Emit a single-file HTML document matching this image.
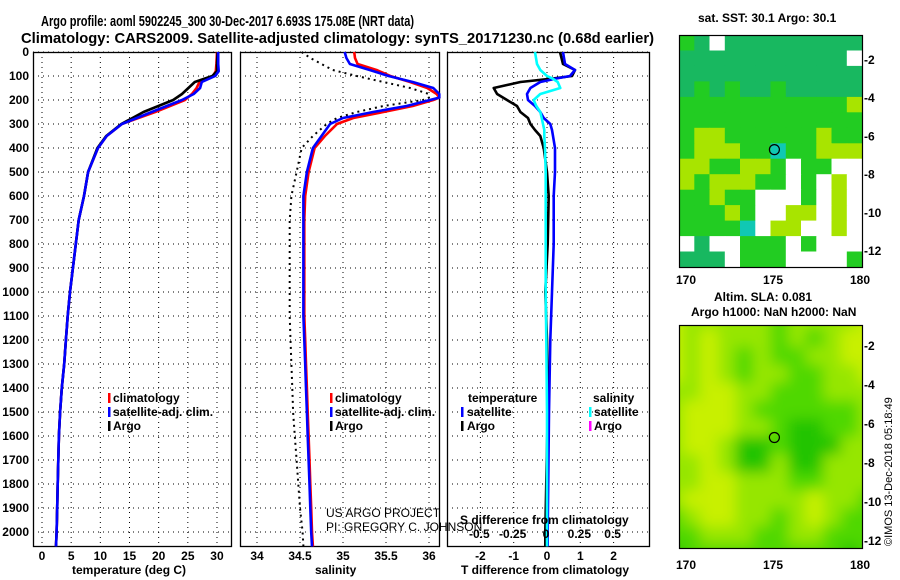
<!DOCTYPE html>
<html><head><meta charset="utf-8"><style>
body{margin:0;background:#fff;}
svg{display:block;font-family:"Liberation Sans",Arial,sans-serif;}
.b{font-weight:bold;font-size:12px;}
</style></head><body>
<svg id="s" width="900" height="580" viewBox="0 0 900 580">
<defs>
<filter id="blur" x="0" y="0" width="1" height="1"><feGaussianBlur stdDeviation="7"/></filter>
<clipPath id="clipTop"><rect x="679" y="35" width="183" height="232"/></clipPath>
<clipPath id="clipBot"><rect x="679" y="325" width="183" height="223"/></clipPath>
</defs>
<text x="41" y="26" font-weight="bold" font-size="15" textLength="373" lengthAdjust="spacingAndGlyphs">Argo profile: aoml 5902245_300 30-Dec-2017 6.693S 175.08E (NRT data)</text>
<text x="21" y="43" font-weight="bold" font-size="15" textLength="633" lengthAdjust="spacingAndGlyphs">Climatology: CARS2009. Satellite-adjusted climatology: synTS_20171230.nc (0.68d earlier)</text>
<g id="grids"></g>
<g id="marks"></g>
<g id="maps"></g>
<g id="labels"></g>
</svg>
<script>
// ---- data ----
const depths = [0,50,80,100,125,150,175,200,250,300,350,400,500,600,700,800,900,1000,1100,1200,1300,1400,1500,1600,1700,1800,1900,2000,2060];
const tempClim = [30.0,29.9,29.8,29.3,27.0,26.5,25.7,24.5,19.4,13.7,11.1,9.6,7.9,7.2,6.3,5.8,5.3,4.8,4.4,4.1,3.8,3.4,3.1,2.9,2.8,2.7,2.6,2.5,2.4];
const tempSat = [30.2,30.2,30.3,29.7,27.4,27.1,26.0,24.0,18.8,13.7,11.1,9.6,7.9,7.2,6.3,5.8,5.3,4.8,4.4,4.1,3.8,3.4,3.1,2.9,2.8,2.7,2.6,2.5,2.4];
const tempArgo = [30.1,30.0,30.0,29.2,26.2,25.1,24.0,22.5,17.4,13.6,11.0,9.5,7.9,7.2,6.3,5.8,5.3,4.8,4.4,4.1,3.8,3.4,3.1,2.9,2.8,2.7,2.6,2.5,2.4];
const salDepths = [0,25,50,75,100,125,150,175,190,200,225,250,275,300,350,400,500,600,700,800,900,1000,1100,1200,1300,1400,1500,1600,1700,1800,1900,2000,2060];
const salClim = [35.13,35.14,35.17,35.39,35.55,35.78,35.98,36.09,36.12,36.05,35.81,35.47,35.12,34.93,34.79,34.67,34.60,34.56,34.55,34.55,34.55,34.55,34.55,34.56,34.57,34.58,34.59,34.60,34.61,34.62,34.63,34.64,34.65];
const salSat = [35.02,35.04,35.08,35.31,35.53,35.81,36.05,36.12,36.12,36.01,35.74,35.35,35.00,34.85,34.75,34.65,34.58,34.54,34.54,34.54,34.54,34.54,34.54,34.55,34.56,34.57,34.58,34.59,34.60,34.61,34.62,34.63,34.64];
const salArgo = [34.52,34.62,34.75,34.88,35.16,35.47,35.78,36.00,36.00,35.93,35.47,35.16,34.93,34.81,34.65,34.52,34.46,34.40,34.38,34.38,34.38,34.38,34.38,34.39,34.40,34.41,34.42,34.44,34.46,34.48,34.50,34.53,34.54];
const diffDepths = [0,50,75,100,110,125,150,175,200,225,250,275,300,325,350,400,500,600,800,1000,1200,1500,2000,2060];
const tDiffArgo = [0.39,0.48,0.84,0.75,0.2,-0.8,-1.6,-1.5,-1.2,-0.9,-0.8,-0.57,-0.5,-0.36,-0.2,-0.1,0.0,0.05,0.02,-0.05,0.0,0.02,-0.05,-0.05];
const tDiffSat = [0.48,0.54,0.84,0.69,0.3,-0.2,-0.5,-0.6,-0.57,-0.36,-0.2,-0.1,0.1,0.15,0.18,0.24,0.24,0.2,0.2,0.15,0.1,0.06,0.02,0.02];
const sDiffSat = [-0.09,-0.075,-0.05,0.0,0.04,0.08,0.1,-0.05,-0.1,-0.08,-0.05,-0.04,-0.03,-0.02,-0.02,-0.015,-0.01,-0.01,-0.01,-0.01,-0.005,0,0,0];
const depthTicks = [0,100,200,300,400,500,600,700,800,900,1000,1100,1200,1300,1400,1500,1600,1700,1800,1900,2000];
const tempTicks = [0,5,10,15,20,25,30];
const salTicks = [34,34.5,35,35.5,36];
const salTickLabels = ['34','34.5','35','35.5','36'];
const tDiffTicks = [-2,-1,0,1,2];
const sDiffTicks = [-0.5,-0.25,0,0.25,0.5];
const sDiffTickLabels = ['-0.5','-0.25','0','0.25','0.5'];
const lonTicks = [170,175,180];
const latTicks = [-2,-4,-6,-8,-10,-12];
const floatLon = 175.08, floatLat = -6.693;
const sstGrid = ["GTWTTTTTTTTT","TTTTTTTTTTTW","TTTTTTTTTTTT","TGTGTTGTTTTT","GGGGGGGGGGGY","GGGGGGGGGGGG","GYYGGGGGGYGG","GYYYGGCGGYYY","YYGGYYGWGGWW","YGYYYGGWGWYW","GGYGGWWWGWYW","GGGYGWWYYWYW","GGGGCWYYWWYW","WTWWGGGWGWWW","TTTWGGGWWWWG"];
const slaGrid = ["YLLLLLGLLLLY","YLYLLLGLGLYY","YLYLGLGGLLYY","YLYLGLLGGLLY","LLYYLLGGGLLL","LYYYLGGGGGGL","LYYYLLGDDGGL","LYYLDDGDDDLL","LLYLDDLDDLLL","LLYYLLLGGLLL","LYYYLLLLYLLG","GLYYLLGLYLGG","GGLLLGGLLGGG","DGGGGGGGGGDG"];
const sstColors = {G:"#22cc22",T:"#18b860",Y:"#a8e400",W:"#ffffff",C:"#10c8b4"};
const slaColors = {Y:"#c8f000",L:"#96e600",G:"#50d800",D:"#22c400"};

const NS="http://www.w3.org/2000/svg";
const yD = d => 52 + d*0.24;
const xT = v => 42 + v*5.833;
const xS = v => 257 + (v-34)*86;
const xTd = v => 547 + v*33.3;
const xSd = v => 547 + v*133.3;
const xLon = v => 686 + (v-170)*17.4;
const yLatTop = v => 60 + (-2 - v)*19.1;
const yLatBot = v => 346 + (-2 - v)*19.5;
const panels = [[33,231],[240,439],[447,649]];
const grids = document.getElementById('grids');
const marks = document.getElementById('marks');
const maps = document.getElementById('maps');
const labels = document.getElementById('labels');
function el(tag, attrs, parent){const e=document.createElementNS(NS,tag);for(const k in attrs)e.setAttribute(k,attrs[k]);parent.appendChild(e);return e;}
function txt(x,y,s,parent,anchor,cls){const t=el('text',{x:x,y:y,'text-anchor':anchor||'middle',class:cls||'b'},parent);t.textContent=s;return t;}

const vgrid = [tempTicks.map(xT), salTicks.map(xS), tDiffTicks.map(xTd)];
panels.forEach((p,i)=>{
  depthTicks.forEach(d=>{
    const l=el('line',{x1:p[0],x2:p[1],y1:yD(d),y2:yD(d),stroke:'#000','stroke-width':1,'stroke-dasharray':'1 4'},grids);
    
    
  });
  vgrid[i].forEach(x=>{
    const l=el('line',{x1:x,x2:x,y1:52,y2:547,stroke:'#000','stroke-width':1,'stroke-dasharray':'1 4'},grids);
    
    
  });
  const r=el('rect',{x:p[0]+0.5,y:52.5,width:p[1]-p[0],height:494,fill:'none',stroke:'#000','stroke-width':1.3},grids);
  
  
});

function line(xs, ds, xf, color, name, dash){
  const pts = xs.map((v,i)=>xf(v).toFixed(1)+','+yD(ds[i]).toFixed(1)).join(' ');
  const pl = el('polyline',{points:pts,fill:'none',stroke:color,'stroke-width':dash?2:2.6,'stroke-linejoin':'round'},marks);
  if(dash) pl.setAttribute('stroke-dasharray', dash);
  
  
}
line(tempClim, depths, xT, '#ff0000', 'temp-climatology-line');
line(tempArgo, depths, xT, '#000000', 'temp-argo-line');
line(tempSat, depths, xT, '#0000ff', 'temp-satellite-line');
line(salArgo, salDepths, xS, '#000000', 'salinity-argo-line', '2 4');
line(salClim, salDepths, xS, '#ff0000', 'salinity-climatology-line');
line(salSat, salDepths, xS, '#0000ff', 'salinity-satellite-line');
line(tDiffArgo, diffDepths, xTd, '#000000', 'tdiff-argo-line');
line(tDiffSat, diffDepths, xTd, '#0000ff', 'tdiff-satellite-line');
line(sDiffSat, diffDepths, xSd, '#00ffff', 'sdiff-satellite-line');

depthTicks.forEach(d=>{const t=txt(29,yD(d)+4,String(d),labels,'end');});
tempTicks.forEach(v=>{const t=txt(xT(v),560,String(v),labels);});
salTicks.forEach((v,i)=>{const t=txt(xS(v),560,salTickLabels[i],labels);});
tDiffTicks.forEach(v=>{const t=txt(xTd(v),560,String(v),labels);});
sDiffTicks.forEach((v,i)=>{const t=txt(xSd(v)-1,538,sDiffTickLabels[i],labels);});

function drawGrid(grid, colors, x0, y0, w, h, parent, name){
  const rows=grid.length, cols=grid[0].length, cw=w/cols, ch=h/rows;
  grid.forEach((row,r)=>{[...row].forEach((c,k)=>{
    const rc=el('rect',{x:(x0+k*cw).toFixed(1),y:(y0+r*ch).toFixed(1),width:(cw+0.6).toFixed(1),height:(ch+0.6).toFixed(1),fill:colors[c]},parent);
    
    
  });});
}
const gTop = el('g',{'clip-path':'url(#clipTop)'},maps);
drawGrid(sstGrid, sstColors, 679, 35, 183, 232, gTop, 'sst-map-cell');
const gBotC = el('g',{'clip-path':'url(#clipBot)'},maps);
const gBot = el('g',{filter:'url(#blur)'},gBotC);
drawGrid(slaGrid, slaColors, 665, 311, 211, 251, gBot, 'sla-map-cell');
[[35,267,'sst-map-frame'],[325,548,'sla-map-frame']].forEach(f=>{
  const r=el('rect',{x:679.5,y:f[0]+0.5,width:183,height:f[1]-f[0],fill:'none',stroke:'#000','stroke-width':1.2},maps);
  
  
});
[[yLatTop(floatLat),'sst-float-marker'],[yLatBot(floatLat),'sla-float-marker']].forEach(m=>{
  const c=el('circle',{cx:xLon(floatLon),cy:m[0],r:5,fill:'none',stroke:'#000','stroke-width':1.2},maps);
  
  
});
lonTicks.forEach(v=>{
  const a=txt(xLon(v),284,String(v),labels);
  const b=txt(xLon(v),569,String(v),labels);
});
latTicks.forEach(v=>{
  const a=txt(864,yLatTop(v)+4,String(v),labels,'start');
  const b=txt(864,yLatBot(v)+4,String(v),labels,'start');
});

const items=[
 [72,574,'temperature (deg C)','start','axis-title-temperature'],
 [315,574,'salinity','start','axis-title-salinity'],
 [461,574,'T difference from climatology','start','axis-title-tdiff'],
 [460,524,'S difference from climatology','start','axis-title-sdiff'],
 [698,22,'sat. SST: 30.1  Argo: 30.1','start','sst-map-title'],
 [714,301,'Altim. SLA: 0.081','start','sla-map-title'],
 [691,316,'Argo h1000: NaN h2000: NaN','start','argo-height-title'],
 [113,402,'climatology','start','legend-climatology'],
 [113,416,'satellite-adj. clim.','start','legend-satellite'],
 [113,430,'Argo','start','legend-argo'],
 [335,402,'climatology','start','legend2-climatology'],
 [335,416,'satellite-adj. clim.','start','legend2-satellite'],
 [335,430,'Argo','start','legend2-argo'],
 [468,402,'temperature','start','legend3-temperature'],
 [467,416,'satellite','start','legend3-tsatellite'],
 [467,430,'Argo','start','legend3-targo'],
 [593,402,'salinity','start','legend3-salinity'],
 [594,416,'satellite','start','legend3-ssatellite'],
 [594,430,'Argo','start','legend3-sargo']];
items.forEach(a=>{const t=el('text',{x:a[0],y:a[1],'text-anchor':a[3],class:'b'},labels);t.textContent=a[2];


});
const bars=[[108,393,'#f00'],[108,407,'#00f'],[108,421,'#000'],[330,393,'#f00'],[330,407,'#00f'],[330,421,'#000'],[461,407,'#00f'],[461,421,'#000'],[589,407,'#0ff'],[589,421,'#f0f']];
bars.forEach(b=>{const r=el('rect',{x:b[0],y:b[1],width:2.5,height:10,fill:b[2]},labels);


});
const n1=el('text',{x:326,y:517,'font-size':12},labels);n1.textContent='US ARGO PROJECT';


const n2=el('text',{x:326,y:531,'font-size':12},labels);n2.textContent='PI: GREGORY C. JOHNSON';


const cp=el('text',{transform:'translate(892,546) rotate(-90)','font-size':11},labels);cp.textContent='©IMOS 13-Dec-2018 05:18:49';


</script>
</body></html>
